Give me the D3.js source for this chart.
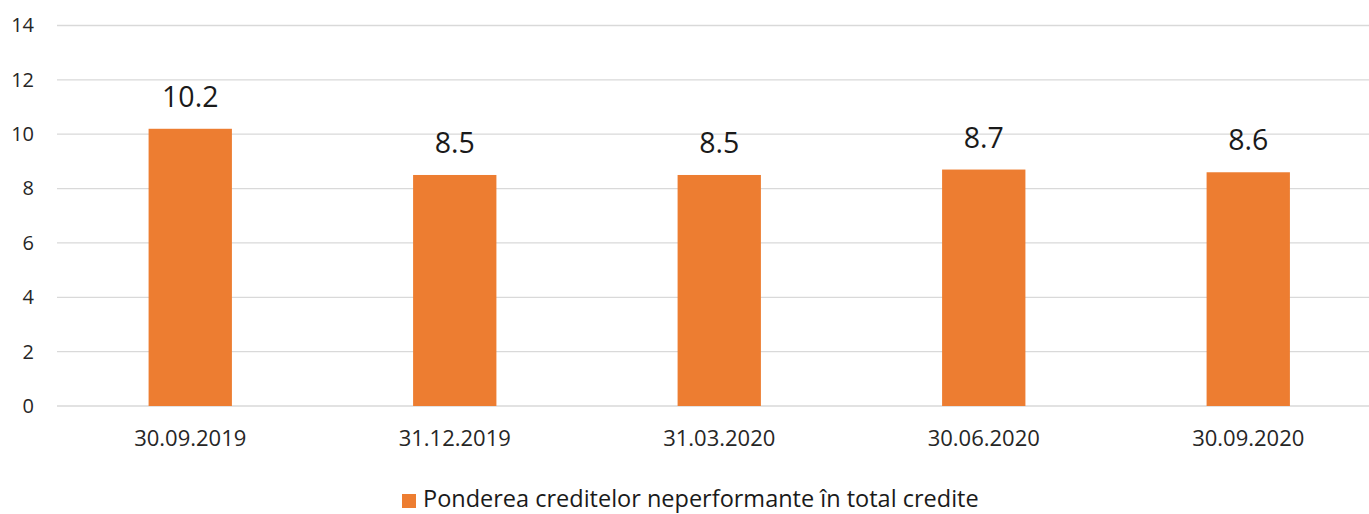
<!DOCTYPE html>
<html>
<head>
<meta charset="utf-8">
<script src="https://cdn.jsdelivr.net/npm/d3@7"></script>
<style>
  body { margin: 0; background: #fff; }
  text { font-family: "Open Sans", "Noto Sans", sans-serif; }
</style>
</head>
<body>
<div id="chart"></div>
<script>
// data
var categories = ["30.09.2019", "31.12.2019", "31.03.2020", "30.06.2020", "30.09.2020"];
var values = [10.2, 8.5, 8.5, 8.7, 8.6];
var yTicks = [0, 2, 4, 6, 8, 10, 12, 14];
var seriesName = "Ponderea creditelor neperformante în total credite";

var W = 1369, H = 514;

var svg = d3.select("#chart")
  .append("svg")
    .attr("width", W)
    .attr("height", H);

// scales
var x = d3.scaleBand()
  .domain(categories)
  .range([58, 1380.5])
  .paddingInner(0.685)
  .paddingOuter(0.3425);

var y = d3.scaleLinear()
  .domain([0, 14])
  .range([406, 25.5]);

// gridlines
svg.append("g")
  .selectAll("line")
  .data(yTicks)
  .enter()
  .append("line")
    .attr("x1", 57)
    .attr("x2", W)
    .attr("y1", d => y(d))
    .attr("y2", d => y(d))
    .style("stroke", "#d9d9d9")
    .style("stroke-width", 1.3);

// y axis
var yAxis = svg.append("g")
  .attr("transform", "translate(34,0)")
  .call(d3.axisLeft(y).tickValues(yTicks).tickSize(0).tickPadding(0));
yAxis.select(".domain").remove();
yAxis.selectAll("text")
  .style("font-size", "20px")
  .style("fill", "#262626")
  .style("font-family", "'Open Sans', sans-serif");

// x axis
var xAxis = svg.append("g")
  .attr("transform", "translate(0,406)")
  .call(d3.axisBottom(x).tickSize(0).tickPadding(24));
xAxis.select(".domain").remove();
xAxis.selectAll("text")
  .style("font-size", "22px")
  .style("fill", "#262626")
  .style("font-family", "'Open Sans', sans-serif");

// bars
svg.append("g")
  .selectAll("rect")
  .data(values)
  .enter()
  .append("rect")
    .attr("x", (d, i) => x(categories[i]))
    .attr("y", d => y(d))
    .attr("width", x.bandwidth())
    .attr("height", d => y(0) - y(d))
    .style("fill", "#ED7D31");

// value labels
svg.append("g")
  .selectAll("text")
  .data(values)
  .enter()
  .append("text")
    .attr("x", (d, i) => x(categories[i]) + x.bandwidth() / 2)
    .attr("y", d => y(d) - 22)
    .attr("text-anchor", "middle")
    .style("font-size", "28.5px")
    .style("fill", "#1a1a1a")
    .text(d => d.toFixed(1));

// legend
var legend = svg.append("g");
legend.append("rect")
  .attr("x", 402)
  .attr("y", 494)
  .attr("width", 14)
  .attr("height", 14)
  .style("fill", "#ED7D31");
legend.append("text")
  .attr("x", 423)
  .attr("y", 507)
  .style("font-size", "23.5px")
  .style("fill", "#1a1a1a")
  .text(seriesName);
</script>
</body>
</html>
